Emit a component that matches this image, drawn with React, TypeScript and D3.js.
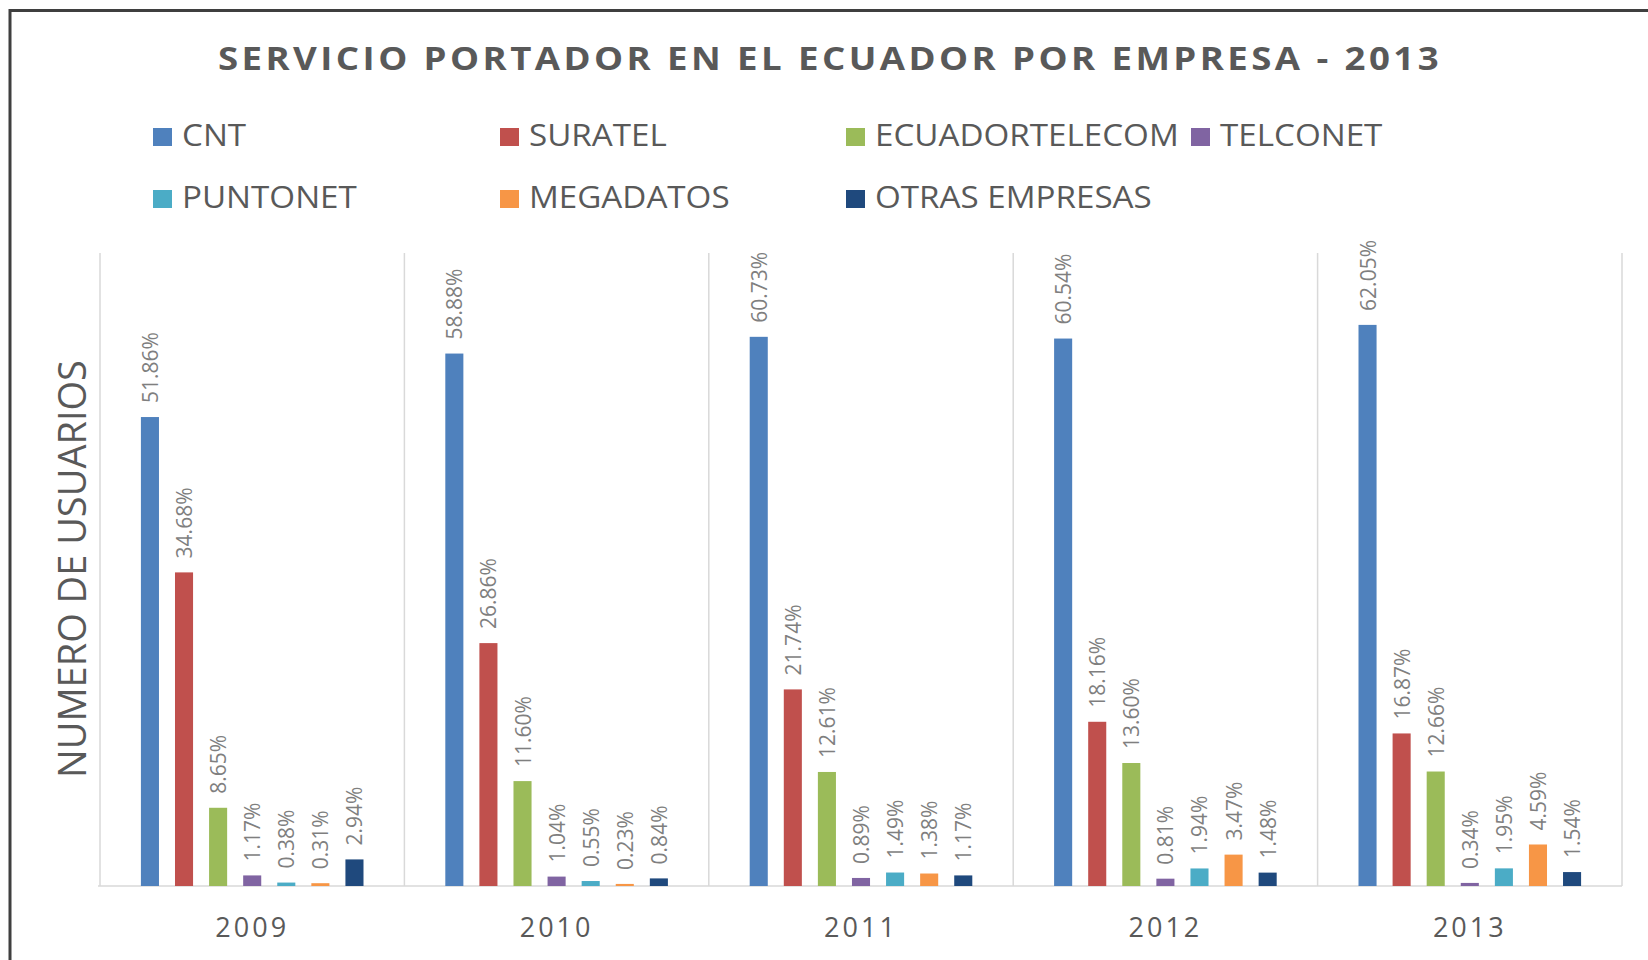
import { useEffect } from "react";
import * as d3 from "d3";

const years = ["2009", "2010", "2011", "2012", "2013"];
const companies = ["CNT", "SURATEL", "ECUADORTELECOM", "TELCONET", "PUNTONET", "MEGADATOS", "OTRAS EMPRESAS"];
const colors = ["#4f81bd", "#c0504d", "#9bbb59", "#8064a2", "#4bacc6", "#f79646", "#1f497d"];

// porcentaje por empresa, un array por año
const v2009 = [51.86, 34.68, 8.65, 1.17, 0.38, 0.31, 2.94];
const v2010 = [58.88, 26.86, 11.6, 1.04, 0.55, 0.23, 0.84];
const v2011 = [60.73, 21.74, 12.61, 0.89, 1.49, 1.38, 1.17];
const v2012 = [60.54, 18.16, 13.6, 0.81, 1.94, 3.47, 1.48];
const v2013 = [62.05, 16.87, 12.66, 0.34, 1.95, 4.59, 1.54];
const values = [v2009, v2010, v2011, v2012, v2013];

const W = 1648;
const H = 960;
const margin = { top: 253, right: 26, bottom: 74, left: 100 };

const App = () => {
  useEffect(() => {
    document.body.style.margin = "0";
  }, []);

  const x0 = d3.scaleBand().domain(years).range([margin.left, W - margin.right]);
  const x1 = d3
    .scaleBand()
    .domain(companies)
    .range([0, x0.bandwidth()])
    .paddingInner(0.47)
    .paddingOuter(1.2);
  const y = d3.scaleLinear().domain([0, 70]).range([H - margin.bottom, margin.top]);

  const base = y(0);
  const font = "'Open Sans', 'Noto Sans', sans-serif";

  // leyenda: 4 columnas, 2 filas
  const legendCols = [153, 500, 846, 1191];
  const legendRows = [146, 208];

  return (
    <svg width={W} height={H} style={{ display: "block", fontFamily: font }}>
      <rect x={0} y={0} width={W} height={H} fill="#fff" />
      {/* marco */}
      <path d={`M10,${H} L10,10.5 L${W},10.5`} fill="none" stroke="#3f3f3f" strokeWidth={3} />

      <text
        x={830}
        y={70}
        textAnchor="middle"
        fontSize={32}
        fontWeight="bold"
        letterSpacing={3}
        fill="#595959"
        textLength={1224}
        lengthAdjust="spacingAndGlyphs"
      >
        SERVICIO PORTADOR EN EL ECUADOR POR EMPRESA - 2013
      </text>

      {companies.map((c, i) => {
        const lx = legendCols[i % 4];
        const ly = legendRows[Math.floor(i / 4)];
        return (
          <g key={c}>
            <rect x={lx} y={ly - 18} width={19} height={18} fill={colors[i]} />
            <text transform={`translate(${lx + 29},${ly}) scale(1.07,1)`} fontSize={31} fill="#595959">
              {c}
            </text>
          </g>
        );
      })}

      {/* separadores verticales */}
      {[...years.map((yr) => x0(yr)!), W - margin.right].map((gx, i) => (
        <line key={i} x1={gx} x2={gx} y1={margin.top} y2={base} stroke="#d9d9d9" strokeWidth={1.5} />
      ))}
      <line x1={margin.left - 2} x2={W - margin.right} y1={base} y2={base} stroke="#d9d9d9" strokeWidth={1.5} />

      {years.map((yr, yi) => (
        <g key={yr} transform={`translate(${x0(yr)},0)`}>
          {companies.map((c, ci) => {
            const v = values[yi][ci];
            const bx = x1(c)!;
            const cx = bx + x1.bandwidth() / 2;
            const top = y(v);
            return (
              <g key={c}>
                <rect x={bx} y={top} width={x1.bandwidth()} height={base - top} fill={colors[ci]} />
                <text
                  transform={`translate(${cx},${top - 14}) rotate(-90)`}
                  dominantBaseline="central"
                  fontSize={21}
                  fill="#7f7f7f"
                >
                  {v.toFixed(2) + "%"}
                </text>
              </g>
            );
          })}
          <text
            x={x0.bandwidth() / 2}
            y={937}
            textAnchor="middle"
            fontSize={27}
            letterSpacing={3}
            fill="#595959"
          >
            {yr}
          </text>
        </g>
      ))}

      <text
        transform={`translate(71,569) rotate(-90)`}
        textAnchor="middle"
        dominantBaseline="central"
        fontSize={38}
        fill="#595959"
      >
        NUMERO DE USUARIOS
      </text>
    </svg>
  );
};

export default App;
